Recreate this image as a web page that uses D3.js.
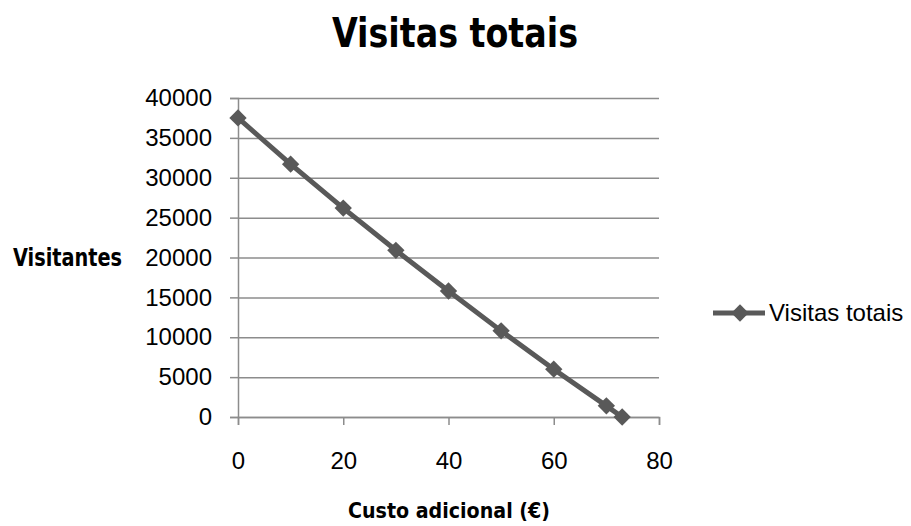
<!DOCTYPE html>
<html>
<head>
<meta charset="utf-8">
<script src="https://cdn.jsdelivr.net/npm/d3@7"></script>
<style>
  body { margin: 0; background: #fff; }
  svg { font-family: "Liberation Sans", Arial, sans-serif; }
  .cond { font-family: "DejaVu Sans Condensed", "Liberation Sans", sans-serif; font-weight: bold; }
</style>
</head>
<body>
<svg id="chart" width="911" height="526"></svg>
<script>
// data
const custo = [0, 10, 20, 30, 40, 50, 60, 70, 73]
const visitas = [37500, 31700, 26200, 20900, 15800, 10800, 6000, 1400, 0]
const xTicks = [0, 20, 40, 60, 80]
const yTicks = [0, 5000, 10000, 15000, 20000, 25000, 30000, 35000, 40000]
const serieNome = "Visitas totais"

const data = custo.map((c, i) => ({ x: c, y: visitas[i] }))

const width = 911, height = 526
const margin = ({ top: 98, right: 252, bottom: 109, left: 238 })

const svg = d3.select('#chart')

const x = d3.scaleLinear()
    .domain([0, 80])
    .range([margin.left, width - margin.right])
const y = d3.scaleLinear()
    .domain([0, 40000])
    .range([height - margin.bottom, margin.top])

const gridColor = '#8c8c8c'
const lineColor = '#595959'

// horizontal gridlines + y axis
const yAxis = g => g
    .attr('transform', `translate(${margin.left},0)`)
    .call(d3.axisLeft(y).tickValues(yTicks).tickSize(8).tickPadding(18).tickFormat(d3.format('d')))
    .call(g => g.select('.domain').attr('stroke', gridColor).attr('stroke-width', 1.5))
    .call(g => g.selectAll('.tick line').clone()
        .attr('x2', width - margin.right - margin.left)
        .attr('stroke', gridColor).attr('stroke-width', 1.5))
    .call(g => g.selectAll('.tick line').attr('stroke', gridColor).attr('stroke-width', 1.5))
    .call(g => g.selectAll('.tick text').attr('font-size', 24).attr('fill', '#000'))

const xAxis = g => g
    .attr('transform', `translate(0,${height - margin.bottom})`)
    .call(d3.axisBottom(x).tickValues(xTicks).tickSize(8).tickPadding(27))
    .call(g => g.select('.domain').attr('stroke', gridColor).attr('stroke-width', 1.5))
    .call(g => g.selectAll('.tick line').attr('stroke', gridColor).attr('stroke-width', 1.5))
    .call(g => g.selectAll('.tick text').attr('font-size', 24).attr('fill', '#000'))

svg.append('g').call(yAxis).attr('font-family', null)
svg.append('g').call(xAxis).attr('font-family', null)

// the series
const line = d3.line().x(d => x(d.x)).y(d => y(d.y))
svg.append('path')
    .datum(data)
    .attr('fill', 'none')
    .attr('stroke', lineColor)
    .attr('stroke-width', 5)
    .attr('d', line)

const diamond = d3.symbol().type(d3.symbolSquare).size(150)
svg.append('g')
    .attr('fill', lineColor)
  .selectAll('path')
  .data(data)
  .join('path')
    .attr('transform', d => `translate(${x(d.x)},${y(d.y)}) rotate(45)`)
    .attr('d', diamond)

// titles
svg.append('text')
    .attr('class', 'cond')
    .attr('x', 332).attr('y', 47)
    .attr('font-size', 41)
    .attr('textLength', 246).attr('lengthAdjust', 'spacingAndGlyphs')
    .text('Visitas totais')

svg.append('text')
    .attr('class', 'cond')
    .attr('x', 13).attr('y', 266)
    .attr('font-size', 25)
    .attr('textLength', 109).attr('lengthAdjust', 'spacingAndGlyphs')
    .text('Visitantes')

svg.append('text')
    .attr('class', 'cond')
    .attr('x', 348).attr('y', 518)
    .attr('font-size', 21)
    .attr('textLength', 202).attr('lengthAdjust', 'spacingAndGlyphs')
    .text('Custo adicional (€)')

// legend
const lg = svg.append('g').attr('transform', 'translate(713,313)')
lg.append('line')
    .attr('x1', 0).attr('x2', 52)
    .attr('stroke', lineColor).attr('stroke-width', 5)
lg.append('path')
    .attr('transform', 'translate(27,0) rotate(45)')
    .attr('fill', lineColor)
    .attr('d', diamond)
lg.append('text')
    .attr('x', 56).attr('y', 8)
    .attr('font-size', 24)
    .text(serieNome)
</script>
</body>
</html>
